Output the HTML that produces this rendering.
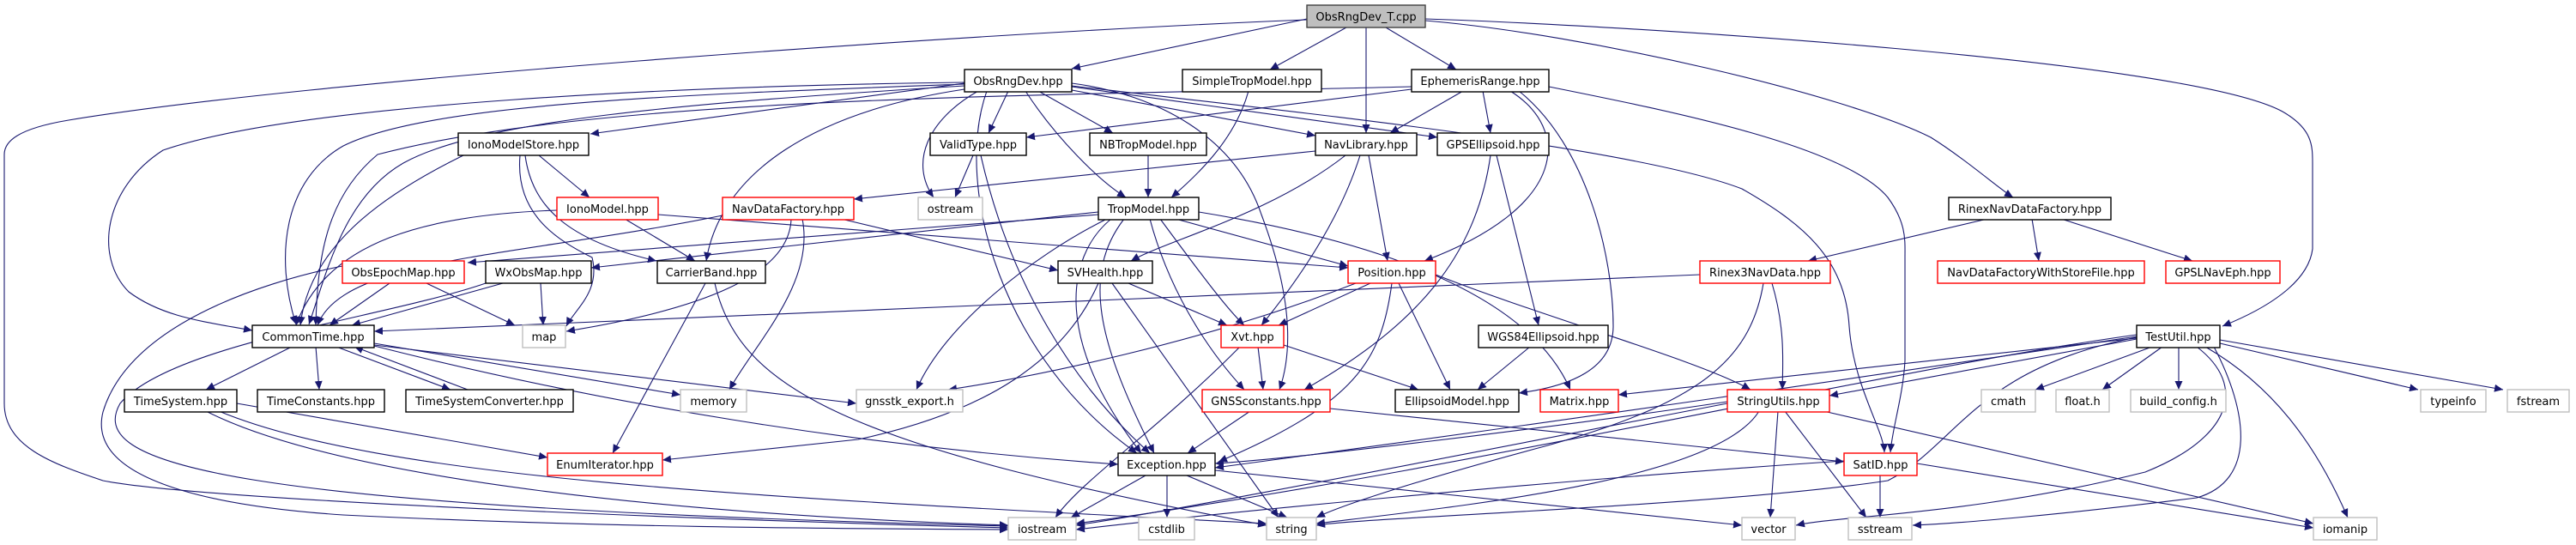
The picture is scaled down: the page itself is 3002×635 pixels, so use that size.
<!DOCTYPE html>
<html><head><meta charset="utf-8"><style>
html,body{margin:0;padding:0;background:#fff;}
svg{display:block;}
.n rect{fill:#fff;stroke:#000;stroke-width:1.4;}
.r rect{fill:#fff;stroke:#ff0000;stroke-width:1.4;}
.g rect{fill:#fff;stroke:#bfbfbf;stroke-width:1.4;}
text{font-family:"DejaVu Sans","Liberation Sans",sans-serif;font-size:13px;fill:#000;text-anchor:middle;}
.e path{fill:none;stroke:#191970;stroke-width:1.1;marker-end:url(#a);}
</style></head><body>
<svg width="3002" height="635" viewBox="0 0 3002 635" xmlns="http://www.w3.org/2000/svg">
<defs><marker id="a" markerUnits="userSpaceOnUse" markerWidth="11" markerHeight="9" refX="10" refY="4.5" orient="auto"><path d="M0,0 L10,4.5 L0,9 z" fill="#191970"/></marker></defs>
<g class="e">
<path d="M1523,22 L1249,80"/>
<path d="M1569,32 L1480,81"/>
<path d="M1592,32 L1592,155"/>
<path d="M1615,32 L1697,81"/>
<path d="M1523,23 C1100,40 350,95 80,140 C20,150 5,165 5,180 L5,470 C5,520 60,540 120,560 C250,585 900,608 1175,615"/>
<path d="M1661,24 C1850,40 2150,110 2250,160 C2290,185 2330,220 2346,230"/>
<path d="M1661,22 C1900,30 2550,70 2660,130 C2695,150 2695,170 2695,190 L2695,290 C2690,330 2640,360 2590,380"/>
<path d="M1124,97 L688,156"/>
<path d="M1124,96 C800,100 350,120 190,175 C120,220 110,300 150,340 C190,370 240,375 294,385"/>
<path d="M1124,98 C800,110 500,120 400,170 C330,210 320,300 345,378"/>
<path d="M1124,100 C800,120 560,140 470,190 C400,230 380,320 360,378"/>
<path d="M1175,106 L1152,155"/>
<path d="M1140,106 C1080,140 1060,190 1088,230"/>
<path d="M1210,106 L1297,155"/>
<path d="M1195,106 C1230,160 1280,210 1312,230"/>
<path d="M1249,105 L1533,158"/>
<path d="M1249,101 L1675,160"/>
<path d="M1249,100 C1500,130 1900,170 2030,220 C2100,260 2150,300 2155,380 C2160,450 2195,500 2196,527"/>
<path d="M1249,97 C1350,110 1440,160 1470,250 C1500,330 1510,400 1491,454"/>
<path d="M1150,106 C1110,220 1170,420 1325,528"/>
<path d="M1124,104 C950,130 840,200 823,304"/>
<path d="M1645,104 L1196,160"/>
<path d="M1705,106 L1620,155"/>
<path d="M1728,106 L1737,155"/>
<path d="M1760,106 C1830,150 1830,240 1660,304"/>
<path d="M1770,106 C1850,170 1880,300 1880,380 C1880,430 1830,450 1770,458"/>
<path d="M1645,101 C1200,112 700,112 440,180 C380,230 370,300 368,379"/>
<path d="M1805,101 C1950,130 2150,170 2200,230 C2222,260 2220,280 2220,300 L2220,420 C2218,460 2205,500 2203,527"/>
<path d="M1455,106 C1440,160 1400,200 1365,230"/>
<path d="M1338,181 L1338,230"/>
<path d="M1134,181 L1113,230"/>
<path d="M1143,181 C1170,300 1230,430 1340,528"/>
<path d="M1533,176 L995,232"/>
<path d="M1568,181 C1480,250 1360,280 1318,304"/>
<path d="M1585,181 C1560,260 1510,330 1470,379"/>
<path d="M1595,181 L1617,304"/>
<path d="M1744,181 L1793,379"/>
<path d="M1737,181 C1720,300 1650,380 1520,454"/>
<path d="M1280,247 L689,312"/>
<path d="M1280,250 L545,306"/>
<path d="M1370,255 L1571,310"/>
<path d="M1352,255 C1400,320 1430,360 1450,379"/>
<path d="M1340,255 C1360,330 1400,400 1450,454"/>
<path d="M1295,255 C1240,300 1230,400 1330,528"/>
<path d="M1310,255 C1260,320 1280,400 1345,528"/>
<path d="M1290,255 C1200,300 1100,380 1068,454"/>
<path d="M1397,247 C1600,280 1780,340 1830,454"/>
<path d="M1315,330 L1430,379"/>
<path d="M1296,330 L1490,603"/>
<path d="M1280,330 C1240,420 1150,480 1000,512 L772,536"/>
<path d="M1597,330 L1490,379"/>
<path d="M1580,330 C1400,400 1200,440 1105,454"/>
<path d="M1630,330 L1690,454"/>
<path d="M1622,330 C1610,420 1580,470 1420,538"/>
<path d="M1673,320 C1800,370 1980,420 2040,454"/>
<path d="M1466,404 L1472,454"/>
<path d="M1496,402 L1653,454"/>
<path d="M1445,404 C1350,500 1260,560 1230,603"/>
<path d="M1457,479 L1384,528"/>
<path d="M1550,476 L2149,538"/>
<path d="M1783,404 L1722,454"/>
<path d="M1335,554 L1248,603"/>
<path d="M1360,554 L1360,603"/>
<path d="M1383,554 L1500,603"/>
<path d="M1416,548 L2030,612"/>
<path d="M2013,468 C1800,500 1500,535 1416,540"/>
<path d="M2013,470 C1700,530 1400,590 1254,612"/>
<path d="M2050,479 C2000,560 1700,590 1534,610"/>
<path d="M2072,479 L2063,603"/>
<path d="M2080,479 L2175,603"/>
<path d="M2125,479 L2696,610"/>
<path d="M2191,554 L2191,603"/>
<path d="M2234,540 L2696,615"/>
<path d="M2149,537 C1800,560 1400,600 1254,617"/>
<path d="M1981,320 L436,386"/>
<path d="M2065,330 C2080,380 2078,420 2077,454"/>
<path d="M2055,330 C2040,420 1980,470 1800,520 C1650,560 1560,590 1534,603"/>
<path d="M2316,255 L2107,304"/>
<path d="M2368,255 L2376,304"/>
<path d="M2402,255 L2555,304"/>
<path d="M2508,404 L2372,454"/>
<path d="M2520,404 L2450,454"/>
<path d="M2539,404 L2539,454"/>
<path d="M2587,400 L2818,454"/>
<path d="M2587,396 L2917,454"/>
<path d="M2570,404 C2650,450 2700,520 2736,603"/>
<path d="M2580,404 C2620,480 2630,560 2560,580 C2400,600 2280,610 2229,612"/>
<path d="M2560,404 C2620,450 2600,510 2500,550 C2300,600 2150,600 2093,612"/>
<path d="M2490,395 L2132,461"/>
<path d="M2490,394 L1886,460"/>
<path d="M2490,392 C2300,420 1900,480 1416,545"/>
<path d="M2490,390 C2200,430 1700,550 1254,610"/>
<path d="M2490,393 C2300,430 2280,520 2200,560 C2000,590 1600,602 1534,612"/>
<path d="M628,181 L687,230"/>
<path d="M540,181 C440,230 360,290 350,379"/>
<path d="M612,181 C620,240 660,280 765,304"/>
<path d="M606,181 C600,250 650,280 690,300 C700,340 670,360 660,380"/>
<path d="M649,245 C500,250 380,280 345,379"/>
<path d="M728,255 L810,304"/>
<path d="M767,250 L1571,312"/>
<path d="M842,251 C600,300 400,300 370,379"/>
<path d="M980,255 L1233,315"/>
<path d="M922,255 C920,320 820,360 660,386"/>
<path d="M935,255 C950,330 880,400 850,454"/>
<path d="M454,330 L384,379"/>
<path d="M497,330 L600,379"/>
<path d="M399,310 C300,330 150,380 120,480 C100,560 250,590 400,600 C700,615 1000,616 1175,617"/>
<path d="M566,330 C450,370 200,400 140,470 C100,540 250,590 1175,613"/>
<path d="M586,330 L410,379"/>
<path d="M630,330 L633,379"/>
<path d="M822,330 L714,528"/>
<path d="M833,330 C860,450 980,520 1476,612"/>
<path d="M340,404 L240,454"/>
<path d="M368,404 L372,454"/>
<path d="M392,404 L525,454"/>
<path d="M545,454 L413,404"/>
<path d="M436,400 L793,460"/>
<path d="M436,402 L998,470"/>
<path d="M436,403 C700,470 1000,520 1303,541"/>
<path d="M276,470 L638,533"/>
<path d="M240,479 C400,560 800,600 1175,612"/>
<path d="M255,479 C450,560 900,580 1476,610"/>
</g>
<g class="n"><rect x="1523" y="6" width="138" height="26" style="fill:#bfbfbf;stroke:#404040"/><text x="1592" y="24">ObsRngDev_T.cpp</text></g>
<g class="n"><rect x="1124" y="81" width="125" height="26"/><text x="1186.5" y="99">ObsRngDev.hpp</text></g>
<g class="n"><rect x="1378" y="81" width="162" height="26"/><text x="1459" y="99">SimpleTropModel.hpp</text></g>
<g class="n"><rect x="1645" y="81" width="160" height="26"/><text x="1725" y="99">EphemerisRange.hpp</text></g>
<g class="n"><rect x="534" y="155" width="152" height="26"/><text x="610" y="173">IonoModelStore.hpp</text></g>
<g class="n"><rect x="1084" y="155" width="112" height="26"/><text x="1140" y="173">ValidType.hpp</text></g>
<g class="n"><rect x="1270" y="155" width="136" height="26"/><text x="1338" y="173">NBTropModel.hpp</text></g>
<g class="n"><rect x="1533" y="155" width="118" height="26"/><text x="1592" y="173">NavLibrary.hpp</text></g>
<g class="n"><rect x="1675" y="155" width="130" height="26"/><text x="1740" y="173">GPSEllipsoid.hpp</text></g>
<g class="r"><rect x="649" y="230" width="118" height="26"/><text x="708" y="248">IonoModel.hpp</text></g>
<g class="r"><rect x="842" y="230" width="153" height="26"/><text x="918.5" y="248">NavDataFactory.hpp</text></g>
<g class="g"><rect x="1070" y="230" width="75" height="26"/><text x="1107.5" y="248">ostream</text></g>
<g class="n"><rect x="1280" y="230" width="117" height="26"/><text x="1338.5" y="248">TropModel.hpp</text></g>
<g class="n"><rect x="2271" y="230" width="189" height="26"/><text x="2365.5" y="248">RinexNavDataFactory.hpp</text></g>
<g class="r"><rect x="399" y="304" width="142" height="26"/><text x="470" y="322">ObsEpochMap.hpp</text></g>
<g class="n"><rect x="566" y="304" width="123" height="26"/><text x="627.5" y="322">WxObsMap.hpp</text></g>
<g class="n"><rect x="766" y="304" width="126" height="26"/><text x="829" y="322">CarrierBand.hpp</text></g>
<g class="n"><rect x="1233" y="304" width="110" height="26"/><text x="1288" y="322">SVHealth.hpp</text></g>
<g class="r"><rect x="1571" y="304" width="102" height="26"/><text x="1622" y="322">Position.hpp</text></g>
<g class="r"><rect x="1981" y="304" width="152" height="26"/><text x="2057" y="322">Rinex3NavData.hpp</text></g>
<g class="r"><rect x="2258" y="304" width="241" height="26"/><text x="2378.5" y="322">NavDataFactoryWithStoreFile.hpp</text></g>
<g class="r"><rect x="2524" y="304" width="133" height="26"/><text x="2590.5" y="322">GPSLNavEph.hpp</text></g>
<g class="n"><rect x="294" y="379" width="142" height="26"/><text x="365" y="397">CommonTime.hpp</text></g>
<g class="g"><rect x="609" y="379" width="50" height="26"/><text x="634" y="397">map</text></g>
<g class="r"><rect x="1423" y="379" width="73" height="26"/><text x="1459.5" y="397">Xvt.hpp</text></g>
<g class="n"><rect x="1723" y="379" width="151" height="26"/><text x="1798.5" y="397">WGS84Ellipsoid.hpp</text></g>
<g class="n"><rect x="2490" y="379" width="97" height="26"/><text x="2538.5" y="397">TestUtil.hpp</text></g>
<g class="n"><rect x="145" y="454" width="131" height="26"/><text x="210.5" y="472">TimeSystem.hpp</text></g>
<g class="n"><rect x="300" y="454" width="148" height="26"/><text x="374" y="472">TimeConstants.hpp</text></g>
<g class="n"><rect x="473" y="454" width="195" height="26"/><text x="570.5" y="472">TimeSystemConverter.hpp</text></g>
<g class="g"><rect x="793" y="454" width="77" height="26"/><text x="831.5" y="472">memory</text></g>
<g class="g"><rect x="998" y="454" width="124" height="26"/><text x="1060" y="472">gnsstk_export.h</text></g>
<g class="r"><rect x="1401" y="454" width="149" height="26"/><text x="1475.5" y="472">GNSSconstants.hpp</text></g>
<g class="n"><rect x="1626" y="454" width="144" height="26"/><text x="1698" y="472">EllipsoidModel.hpp</text></g>
<g class="r"><rect x="1795" y="454" width="91" height="26"/><text x="1840.5" y="472">Matrix.hpp</text></g>
<g class="r"><rect x="2013" y="454" width="119" height="26"/><text x="2072.5" y="472">StringUtils.hpp</text></g>
<g class="g"><rect x="2309" y="454" width="63" height="26"/><text x="2340.5" y="472">cmath</text></g>
<g class="g"><rect x="2396" y="454" width="62" height="26"/><text x="2427" y="472">float.h</text></g>
<g class="g"><rect x="2483" y="454" width="111" height="26"/><text x="2538.5" y="472">build_config.h</text></g>
<g class="g"><rect x="2821" y="454" width="76" height="26"/><text x="2859" y="472">typeinfo</text></g>
<g class="g"><rect x="2922" y="454" width="72" height="26"/><text x="2958" y="472">fstream</text></g>
<g class="r"><rect x="638" y="528" width="134" height="26"/><text x="705" y="546">EnumIterator.hpp</text></g>
<g class="n"><rect x="1303" y="528" width="113" height="26"/><text x="1359.5" y="546">Exception.hpp</text></g>
<g class="r"><rect x="2149" y="528" width="85" height="26"/><text x="2191.5" y="546">SatID.hpp</text></g>
<g class="g"><rect x="1175" y="603" width="79" height="26"/><text x="1214.5" y="621">iostream</text></g>
<g class="g"><rect x="1327" y="603" width="65" height="26"/><text x="1359.5" y="621">cstdlib</text></g>
<g class="g"><rect x="1476" y="603" width="58" height="26"/><text x="1505" y="621">string</text></g>
<g class="g"><rect x="2030" y="603" width="62" height="26"/><text x="2061" y="621">vector</text></g>
<g class="g"><rect x="2154" y="603" width="74" height="26"/><text x="2191" y="621">sstream</text></g>
<g class="g"><rect x="2696" y="603" width="74" height="26"/><text x="2733" y="621">iomanip</text></g>
</svg>
</body></html>
